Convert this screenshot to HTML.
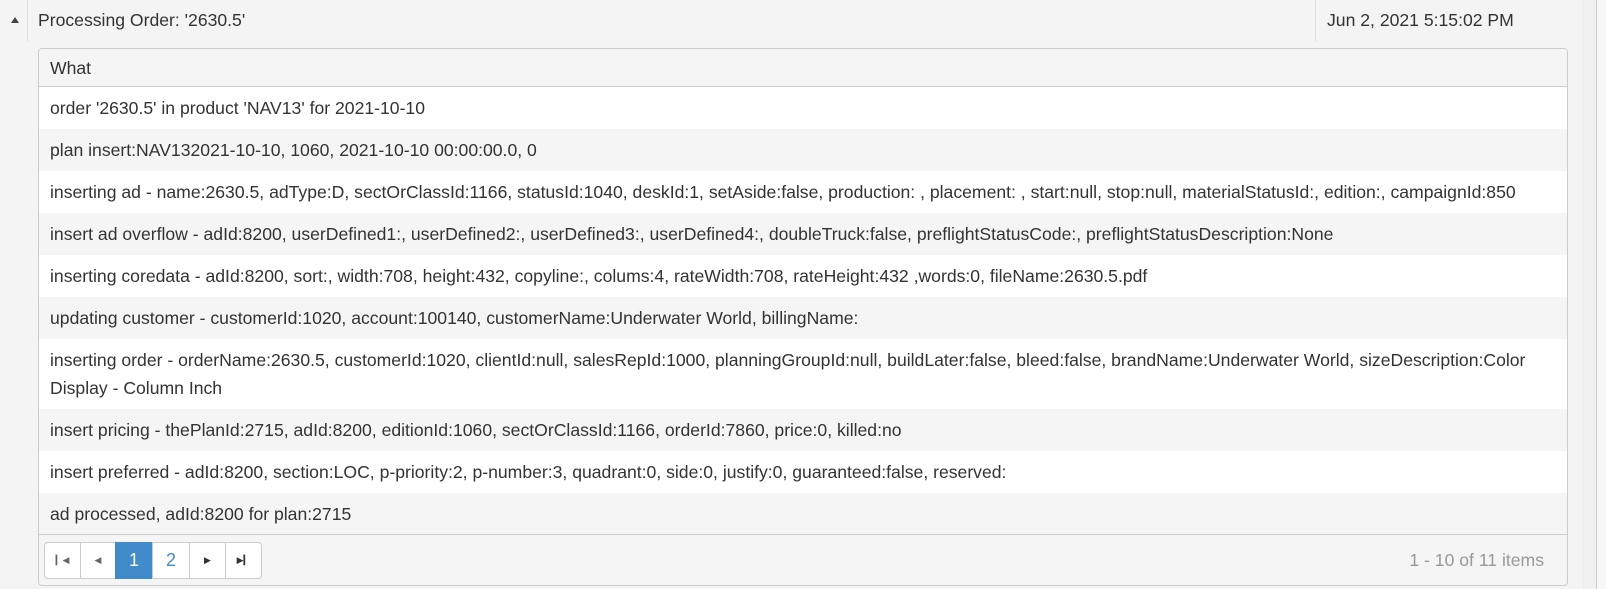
<!DOCTYPE html>
<html><head><style>
*{box-sizing:border-box;margin:0;padding:0}
body{width:1606px;height:589px;background:#f4f4f4;font-family:"Liberation Sans",Arial,sans-serif;color:#333;position:relative;overflow:hidden;font-size:17.6px}
.abs{position:absolute}
.grid{position:absolute;left:38px;top:48px;width:1530px;height:538px;border:1px solid #ccc;border-radius:4px;background:#f5f5f5;overflow:hidden}
.row{position:absolute;left:0;right:0;padding:0 11px;line-height:28px;display:flex;align-items:center}
.w{background:#fff}.g{background:#f5f5f5}
.pg{position:absolute;top:542px;height:37px;border:1px solid #ccc;display:flex;align-items:center;justify-content:center;background:#fff;font-size:18px;color:#428bca}
</style></head><body>
<div class="abs" style="left:11px;top:17px;width:0;height:0;border-left:4px solid transparent;border-right:4px solid transparent;border-bottom:6px solid #444"></div>
<div class="abs" style="left:27px;top:0;width:1px;height:41px;background:#ddd"></div>
<div class="abs" style="left:38px;top:10px">Processing Order: '2630.5'</div>
<div class="abs" style="left:1315px;top:0;width:1px;height:41px;background:#ddd"></div>
<div class="abs" style="left:1327px;top:10px">Jun 2, 2021 5:15:02 PM</div>
<div class="abs" style="left:1582px;top:0;width:14px;height:589px;background:#f0f0f0"></div>
<div class="abs" style="left:1596px;top:0;width:1px;height:589px;background:#ccc"></div>
<div class="abs" style="left:1597px;top:0;width:9px;height:589px;background:#f7f7f7"></div>
<div class="grid">
<div class="row g" style="top:0;height:38px;border-bottom:1px solid #ccc">What</div>
<div class="row w" style="top:38px;height:42px">order '2630.5' in product 'NAV13' for 2021-10-10</div>
<div class="row g" style="top:80px;height:42px">plan insert:NAV132021-10-10, 1060, 2021-10-10 00:00:00.0, 0</div>
<div class="row w" style="top:122px;height:42px;white-space:nowrap">inserting ad - name:2630.5, adType:D, sectOrClassId:1166, statusId:1040, deskId:1, setAside:false, production: , placement: , start:null, stop:null, materialStatusId:, edition:, campaignId:850</div>
<div class="row g" style="top:164px;height:42px">insert ad overflow - adId:8200, userDefined1:, userDefined2:, userDefined3:, userDefined4:, doubleTruck:false, preflightStatusCode:, preflightStatusDescription:None</div>
<div class="row w" style="top:206px;height:42px">inserting coredata - adId:8200, sort:, width:708, height:432, copyline:, colums:4, rateWidth:708, rateHeight:432 ,words:0, fileName:2630.5.pdf</div>
<div class="row g" style="top:248px;height:42px">updating customer - customerId:1020, account:100140, customerName:Underwater World, billingName:</div>
<div class="row w" style="top:290px;height:70px">inserting order - orderName:2630.5, customerId:1020, clientId:null, salesRepId:1000, planningGroupId:null, buildLater:false, bleed:false, brandName:Underwater World, sizeDescription:Color<br>Display - Column Inch</div>
<div class="row g" style="top:360px;height:42px">insert pricing - thePlanId:2715, adId:8200, editionId:1060, sectOrClassId:1166, orderId:7860, price:0, killed:no</div>
<div class="row w" style="top:402px;height:42px">insert preferred - adId:8200, section:LOC, p-priority:2, p-number:3, quadrant:0, side:0, justify:0, guaranteed:false, reserved:</div>
<div class="row g" style="top:444px;height:42px;border-bottom:1px solid #ccc">ad processed, adId:8200 for plan:2715</div>
</div>
<div class="pg" style="left:44px;width:37px;border-radius:4px 0 0 4px;color:#666;font-size:9px">&#9614;&#9664;</div>
<div class="pg" style="left:80px;width:36px;color:#666;font-size:9px">&#9664;</div>
<div class="pg" style="left:115px;width:38px;background:#428bca;border-color:#428bca;color:#fff">1</div>
<div class="pg" style="left:152px;width:38px">2</div>
<div class="pg" style="left:189px;width:37px;color:#333;font-size:9px">&#9654;</div>
<div class="pg" style="left:225px;width:37px;border-radius:0 4px 4px 0;color:#333;font-size:9px">&#9654;&#9614;</div>
<div class="abs" style="right:62px;top:550px;color:#999">1 - 10 of 11 items</div>
</body></html>
